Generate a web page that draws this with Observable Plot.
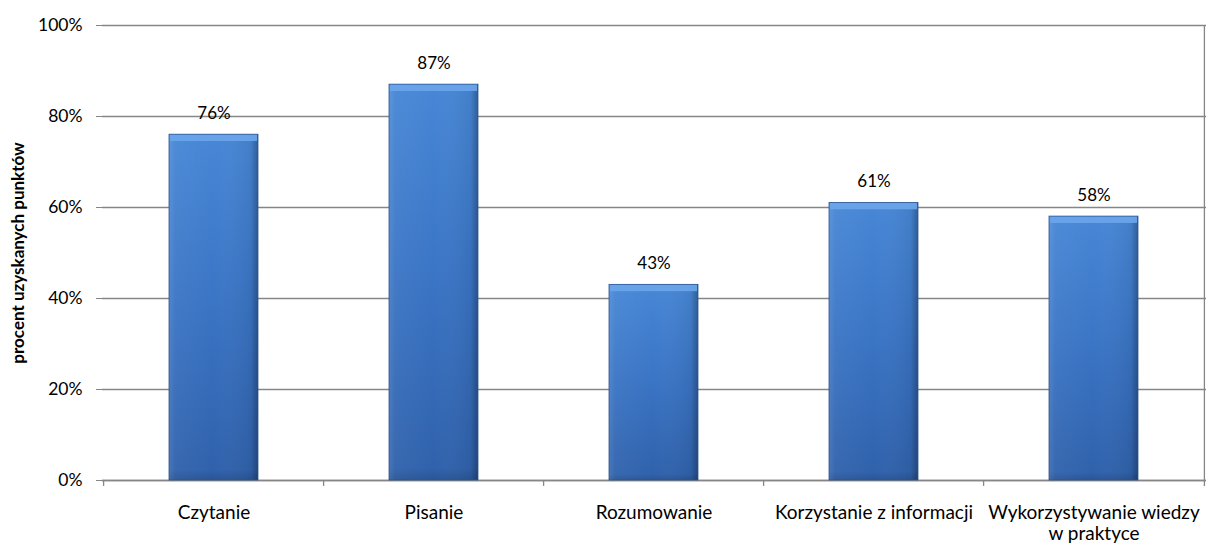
<!DOCTYPE html>
<html>
<head>
<meta charset="utf-8">
<script src="https://cdn.jsdelivr.net/npm/d3@7"></script>
<script src="https://cdn.jsdelivr.net/npm/@observablehq/plot@0.6"></script>
<style>
  html, body { margin: 0; padding: 0; background: #fff; }
  #chart { width: 1207px; height: 543px; }
  svg { font-family: Lato, "Open Sans", sans-serif; }
</style>
</head>
<body>
<div id="chart"></div>
<script>
const categories = ["Czytanie", "Pisanie", "Rozumowanie", "Korzystanie z informacji", "Wykorzystywanie wiedzy\nw praktyce"];
const values = [76, 87, 43, 61, 58];
const yTicks = [0, 20, 40, 60, 80, 100];
const yTitle = "procent uzyskanych punktów";

const data = categories.map((c, i) => ({cat: c, v: values[i]}));

const W = 1207, H = 543;
const mL = 102, mR = 1, mT = 25, mB = 63;
const bandW = (W - mL - mR) / categories.length;

const svg = Plot.plot({
  width: W, height: H,
  marginLeft: mL, marginRight: mR, marginTop: mT, marginBottom: mB,
  style: {fontSize: "17px", fontFamily: "Lato, 'Open Sans', sans-serif", color: "#000", background: "#fff"},
  x: {domain: categories, paddingInner: 0.595, paddingOuter: 0.2975, label: null},
  y: {domain: [0, 100], label: null},
  marks: [
    Plot.gridY(yTicks, {stroke: "#868686", strokeOpacity: 1, strokeWidth: 1.3}),
    Plot.ruleX([0], {frameAnchor: "left", stroke: "#868686", strokeWidth: 1.3}),
    Plot.ruleY([0], {stroke: "#868686", strokeWidth: 1.3}),
    // bars
    Plot.barY(data, {x: "cat", y: "v", fill: "url(#barGradV)"}),
    Plot.barY(data, {x: "cat", y: "v", fill: "url(#barGradH)"}),
    Plot.barY(data, {x: "cat", y1: d => d.v - 1.5, y2: "v", fill: "#6ca6ec", fillOpacity: 0.9, insetLeft: 1, insetRight: 1}),
    Plot.barY(data, {x: "cat", y: "v", fill: "none", stroke: "#2b5590", strokeWidth: 0.8}),
    // right frame
    Plot.ruleX([categories[categories.length - 1]], {dx: bandW / 2, y1: -1.3, y2: 100, stroke: "#868686", strokeWidth: 1.3}),
    // category boundary ticks
    Plot.ruleX(categories, {dx: -bandW / 2, y1: 0, y2: -1.3, stroke: "#868686", strokeWidth: 1.3, clip: false}),
    // value labels
    Plot.text(data, {x: "cat", y: "v", text: d => d.v + "%", dy: -21, fill: "#000", fontSize: 17}),
    Plot.axisY(yTicks, {tickFormat: d => d + "%", tickSize: 6, stroke: "#868686", tickPadding: 14, fontSize: 17.5, label: null}),
    Plot.axisX({tickSize: 0, tickPadding: 24, fontSize: 19, label: null, lineHeight: 1.1}),
    Plot.text([yTitle], {frameAnchor: "left", textAnchor: "middle", dx: -84, rotate: -90, fontWeight: "bold", fontSize: 17, fill: "#000"})
  ]
});

const ns = "http://www.w3.org/2000/svg";
const defs = document.createElementNS(ns, "defs");
defs.innerHTML = `
  <linearGradient id="barGradV" x1="0" y1="0" x2="0" y2="1">
    <stop offset="0" stop-color="#4787d6"/>
    <stop offset="0.5" stop-color="#3a74c4"/>
    <stop offset="0.97" stop-color="#3062ac"/>
    <stop offset="1" stop-color="#2a5596"/>
  </linearGradient>
  <linearGradient id="barGradH" x1="0" y1="0" x2="1" y2="0">
    <stop offset="0" stop-color="#ffffff" stop-opacity="0.12"/>
    <stop offset="0.07" stop-color="#ffffff" stop-opacity="0.04"/>
    <stop offset="0.5" stop-color="#ffffff" stop-opacity="0"/>
    <stop offset="0.92" stop-color="#000000" stop-opacity="0.06"/>
    <stop offset="1" stop-color="#000000" stop-opacity="0.3"/>
  </linearGradient>`;
svg.insertBefore(defs, svg.firstChild);
document.getElementById("chart").appendChild(svg);
</script>
</body>
</html>
